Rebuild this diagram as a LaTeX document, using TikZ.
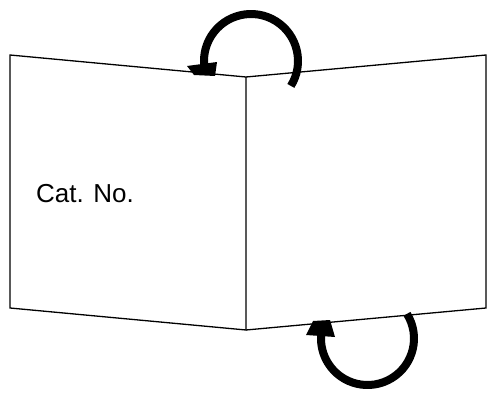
\documentclass[tikz,border=0pt]{standalone}
\usepackage{fontspec}
\setmainfont{Liberation Sans}
\usetikzlibrary{positioning,calc}

\begin{document}
\begin{tikzpicture}[x=1pt, y=-1pt,
  panel/.style={draw, line width=1.3pt, line join=miter},
  turn/.style={line width=8pt, line cap=butt},
  turnhead/.style={fill=black}]
\useasboundingbox (0,0) rectangle (487,393);
% corners of the open leaflet
\coordinate (lt) at (10,55);
\coordinate (lb) at (10,308);
\coordinate (mt) at (246,77);
\coordinate (mb) at (246,330);
\coordinate (rt) at (486,55);
\coordinate (rb) at (486,308);
\draw[panel] (mt) -- (lt) -- (lb) -- (mb) -- cycle;
\draw[panel] (mt) -- (rt) -- (rb) -- (mb);
\node[font=\fontsize{26}{30}\selectfont, inner sep=0pt] (catno) at (85,194) {Cat. No.};
% turn over at the top
\coordinate (topend) at ($(251,61)+(32:47)$);
\draw[turn] (topend) arc[start angle=32, end angle=-184, radius=47] coordinate (tophead);
\fill[turnhead] (187,66) -- (217,62) -- (215,76) -- (194,75) -- cycle;
% turn over at the bottom
\coordinate (botend) at ($(367.5,338.5)+(-32:46.5)$);
\draw[turn] (botend) arc[start angle=-32, end angle=184, radius=46.5] coordinate (bothead);
\fill[turnhead] (306,335) -- (313,321) -- (330,320) -- (335,337) -- cycle;
\end{tikzpicture}
\end{document}
